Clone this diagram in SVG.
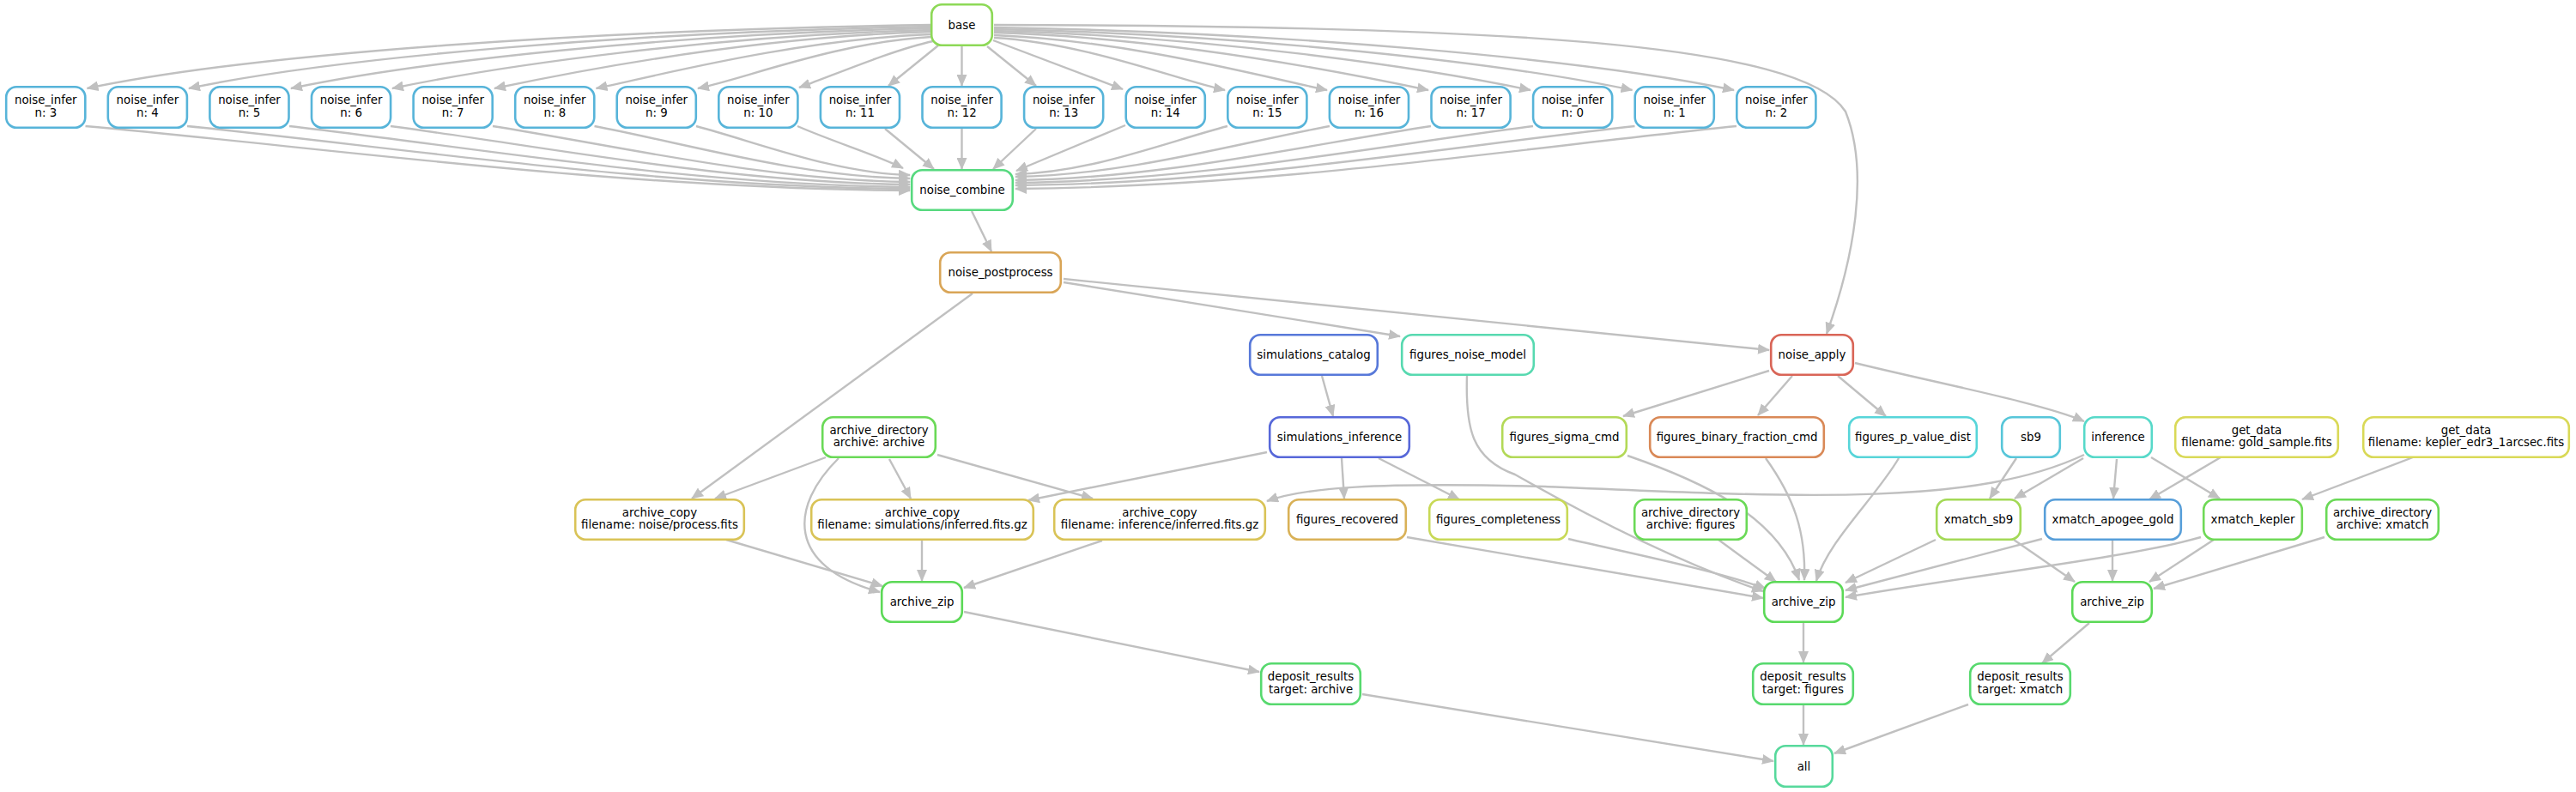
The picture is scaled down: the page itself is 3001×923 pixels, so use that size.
<svg xmlns="http://www.w3.org/2000/svg" width="3001" height="923" viewBox="0 0 3001 923">
<style>
.n rect{fill:#fff;stroke-width:2.6}
text{font-family:"DejaVu Sans","Liberation Sans",sans-serif;font-size:13.33px;text-anchor:middle;fill:#000}
#edges path{fill:none;stroke:#c0c0c0;stroke-width:2.4;marker-end:url(#ah)}
</style>
<defs>
<marker id="ah" markerUnits="userSpaceOnUse" markerWidth="14" markerHeight="12" refX="13" refY="6" orient="auto"><path d="M0,0 L14,6 L0,12 z" fill="#c0c0c0"/></marker>
</defs>
<rect width="3001" height="923" fill="#fff"/>
<g id="edges">
<path d="M1085,29 C691.6,35 298.2,61.7 101.5,103"/>
<path d="M1085,31 C739,37 393,66.7 220,103"/>
<path d="M1085,33 C786.6,39 488.2,71.7 339,103"/>
<path d="M1085,35 C833.8,41 582.6,76.6 457,103"/>
<path d="M1085,37 C881.4,43 677.8,81.6 576,103"/>
<path d="M1085,40 C928.8,46 772.6,86.6 694.5,103"/>
<path d="M1085,43 C976.2,49 867.4,91.6 813,103"/>
<path d="M1087,48 C1040,58 965,90 931,102"/>
<path d="M1093,53 L1035,100"/>
<path d="M1120.5,54 L1120.5,100"/>
<path d="M1150,54 L1207,100"/>
<path d="M1157,47 L1308,104"/>
<path d="M1158,44 C1265.6,50 1373.2,93.7 1427,105"/>
<path d="M1158,41 C1313.2,47 1468.4,88.7 1546,105"/>
<path d="M1158,38 C1360.4,44 1562.8,83.7 1664,105"/>
<path d="M1158,36 C1408,42 1658,78.8 1783,105"/>
<path d="M1158,34 C1455.4,40 1752.8,73.8 1901.5,105"/>
<path d="M1158,32 C1502.8,38 1847.6,68.8 2020,105"/>
<path d="M1158,29 C1750,30 2100,50 2150,130 C2178,200 2160,300 2128,389"/>
<path d="M99.5,147 C387.7,173 723.8,220 1060,222"/>
<path d="M218,147 C470.6,172.5 765.3,218 1060,220"/>
<path d="M337,147 C554,172 807,216 1060,218"/>
<path d="M455,147 C636.5,171 848,213 1060,215"/>
<path d="M574,147 C719.8,170 890,210 1060,212"/>
<path d="M692.5,147 C802.8,168 931.4,206 1060,208"/>
<path d="M811,147 C885.7,167 972.9,202 1060,204"/>
<path d="M929,147 C970,165 1025,182 1052,196"/>
<path d="M1031,150 L1088,197"/>
<path d="M1120.5,150 L1120.5,197"/>
<path d="M1207,150 L1157,197"/>
<path d="M1311,146 L1184,199"/>
<path d="M1430,147 C1355.9,166.6 1269.5,201 1183,203"/>
<path d="M1549,147 C1439.2,167.5 1311.1,204 1183,206"/>
<path d="M1667,147 C1521.8,169 1352.4,208 1183,210"/>
<path d="M1786,147 C1605.1,170 1394,211 1183,213"/>
<path d="M1904.5,147 C1688,171 1435.5,214 1183,216"/>
<path d="M2023,147 C1771,172.6 1477,218 1183,220"/>
<path d="M1132,246 L1155,293"/>
<path d="M1133,342 L806,581"/>
<path d="M1239,329 L1631,392"/>
<path d="M1239,325 L2061,408"/>
<path d="M1540,438 L1553,485"/>
<path d="M962,533 L833,581"/>
<path d="M1036,535 L1061,581"/>
<path d="M1092,530 L1273,581"/>
<path d="M977,534 C920,590 915,660 1025,690"/>
<path d="M846,629 L1028,683"/>
<path d="M1074,630 L1074,677"/>
<path d="M1284,630 L1123,685"/>
<path d="M1476,527 L1198,583"/>
<path d="M1563,534 L1566,581"/>
<path d="M1606,534 L1700,582"/>
<path d="M2428,530 C2300,590 2100,580 1800,567 C1600,562 1520,568 1476,584"/>
<path d="M2427,534 L2347,581"/>
<path d="M2349,534 L2318,581"/>
<path d="M2466,535 L2462,581"/>
<path d="M2506,533 L2586,581"/>
<path d="M2587,533 L2504,582"/>
<path d="M2811,533 L2682,582"/>
<path d="M2061,432 L1891,485"/>
<path d="M2088,438 L2048,484"/>
<path d="M2141,438 L2197,485"/>
<path d="M2161,423 C2250,445 2380,470 2428,491"/>
<path d="M1709,438 C1707,500 1715,535 1765,553 C1830,590 1940,650 2054,689"/>
<path d="M1896,531 C1980,560 2070,600 2096,676"/>
<path d="M2057,534 C2090,580 2104,620 2102,676"/>
<path d="M2212,534 C2185,580 2130,630 2116,677"/>
<path d="M2002,629 L2069,678"/>
<path d="M1827,628 C1900,645 2000,665 2057,686"/>
<path d="M1639,626 L2054,697"/>
<path d="M2255,629 L2150,679"/>
<path d="M2379,628 L2150,688"/>
<path d="M2564,626 C2480,650 2300,670 2150,696"/>
<path d="M2346,629 L2417,678"/>
<path d="M2461,630 L2461,677"/>
<path d="M2579,629 L2504,678"/>
<path d="M2708,626 L2509,686"/>
<path d="M1123,713 L1467,783"/>
<path d="M2101,726 L2101,772"/>
<path d="M2434,726 L2379,773"/>
<path d="M1587,809 L2066,887"/>
<path d="M2101,822 L2101,868"/>
<path d="M2293,821 L2137,878"/>
</g>
<g id="base" class="n"><rect x="1085.2" y="5.2" width="70.6" height="47.6" rx="12" stroke="#8dd957"/><text x="1120.5" y="33.5">base</text></g>
<g id="noise_infer_3" class="n"><rect x="7.2" y="101.2" width="92.1" height="47.6" rx="12" stroke="#57b4d9"/><text x="53.3" y="121">noise_infer</text><text x="53.3" y="135.5">n: 3</text></g>
<g id="noise_infer_4" class="n"><rect x="125.8" y="101.2" width="92.1" height="47.6" rx="12" stroke="#57b4d9"/><text x="171.9" y="121">noise_infer</text><text x="171.9" y="135.5">n: 4</text></g>
<g id="noise_infer_5" class="n"><rect x="244.4" y="101.2" width="92.1" height="47.6" rx="12" stroke="#57b4d9"/><text x="290.5" y="121">noise_infer</text><text x="290.5" y="135.5">n: 5</text></g>
<g id="noise_infer_6" class="n"><rect x="363" y="101.2" width="92.1" height="47.6" rx="12" stroke="#57b4d9"/><text x="409.1" y="121">noise_infer</text><text x="409.1" y="135.5">n: 6</text></g>
<g id="noise_infer_7" class="n"><rect x="481.6" y="101.2" width="92.1" height="47.6" rx="12" stroke="#57b4d9"/><text x="527.7" y="121">noise_infer</text><text x="527.7" y="135.5">n: 7</text></g>
<g id="noise_infer_8" class="n"><rect x="600.2" y="101.2" width="92.1" height="47.6" rx="12" stroke="#57b4d9"/><text x="646.3" y="121">noise_infer</text><text x="646.3" y="135.5">n: 8</text></g>
<g id="noise_infer_9" class="n"><rect x="718.7" y="101.2" width="92.1" height="47.6" rx="12" stroke="#57b4d9"/><text x="764.8" y="121">noise_infer</text><text x="764.8" y="135.5">n: 9</text></g>
<g id="noise_infer_10" class="n"><rect x="837.3" y="101.2" width="92.1" height="47.6" rx="12" stroke="#57b4d9"/><text x="883.4" y="121">noise_infer</text><text x="883.4" y="135.5">n: 10</text></g>
<g id="noise_infer_11" class="n"><rect x="955.9" y="101.2" width="92.1" height="47.6" rx="12" stroke="#57b4d9"/><text x="1002" y="121">noise_infer</text><text x="1002" y="135.5">n: 11</text></g>
<g id="noise_infer_12" class="n"><rect x="1074.5" y="101.2" width="92.1" height="47.6" rx="12" stroke="#57b4d9"/><text x="1120.6" y="121">noise_infer</text><text x="1120.6" y="135.5">n: 12</text></g>
<g id="noise_infer_13" class="n"><rect x="1193.1" y="101.2" width="92.1" height="47.6" rx="12" stroke="#57b4d9"/><text x="1239.2" y="121">noise_infer</text><text x="1239.2" y="135.5">n: 13</text></g>
<g id="noise_infer_14" class="n"><rect x="1311.7" y="101.2" width="92.1" height="47.6" rx="12" stroke="#57b4d9"/><text x="1357.8" y="121">noise_infer</text><text x="1357.8" y="135.5">n: 14</text></g>
<g id="noise_infer_15" class="n"><rect x="1430.3" y="101.2" width="92.1" height="47.6" rx="12" stroke="#57b4d9"/><text x="1476.4" y="121">noise_infer</text><text x="1476.4" y="135.5">n: 15</text></g>
<g id="noise_infer_16" class="n"><rect x="1548.9" y="101.2" width="92.1" height="47.6" rx="12" stroke="#57b4d9"/><text x="1595" y="121">noise_infer</text><text x="1595" y="135.5">n: 16</text></g>
<g id="noise_infer_17" class="n"><rect x="1667.5" y="101.2" width="92.1" height="47.6" rx="12" stroke="#57b4d9"/><text x="1713.6" y="121">noise_infer</text><text x="1713.6" y="135.5">n: 17</text></g>
<g id="noise_infer_0" class="n"><rect x="1786.1" y="101.2" width="92.1" height="47.6" rx="12" stroke="#57b4d9"/><text x="1832.2" y="121">noise_infer</text><text x="1832.2" y="135.5">n: 0</text></g>
<g id="noise_infer_1" class="n"><rect x="1904.7" y="101.2" width="92.1" height="47.6" rx="12" stroke="#57b4d9"/><text x="1950.8" y="121">noise_infer</text><text x="1950.8" y="135.5">n: 1</text></g>
<g id="noise_infer_2" class="n"><rect x="2023.3" y="101.2" width="92.1" height="47.6" rx="12" stroke="#57b4d9"/><text x="2069.4" y="121">noise_infer</text><text x="2069.4" y="135.5">n: 2</text></g>
<g id="noise_combine" class="n"><rect x="1062.2" y="198.2" width="117.6" height="46.6" rx="12" stroke="#57d97f"/><text x="1121" y="226">noise_combine</text></g>
<g id="noise_postprocess" class="n"><rect x="1095.2" y="294.2" width="140.6" height="46.6" rx="12" stroke="#d9a557"/><text x="1165.5" y="322">noise_postprocess</text></g>
<g id="simulations_catalog" class="n"><rect x="1456.2" y="390.2" width="148.6" height="46.6" rx="12" stroke="#5778d9"/><text x="1530.5" y="418">simulations_catalog</text></g>
<g id="figures_noise_model" class="n"><rect x="1633.2" y="390.2" width="153.6" height="46.6" rx="12" stroke="#57d9b0"/><text x="1710" y="418">figures_noise_model</text></g>
<g id="noise_apply" class="n"><rect x="2063.2" y="390.2" width="95.6" height="46.6" rx="12" stroke="#d96557"/><text x="2111" y="418">noise_apply</text></g>
<g id="archive_directory_archive" class="n"><rect x="958.2" y="486.2" width="131.6" height="46.6" rx="12" stroke="#6ad957"/><text x="1024" y="505.5">archive_directory</text><text x="1024" y="520">archive: archive</text></g>
<g id="simulations_inference" class="n"><rect x="1479.2" y="486.2" width="162.6" height="46.6" rx="12" stroke="#5768d9"/><text x="1560.5" y="514">simulations_inference</text></g>
<g id="figures_sigma_cmd" class="n"><rect x="1750.2" y="486.2" width="144.6" height="46.6" rx="12" stroke="#b3d957"/><text x="1822.5" y="514">figures_sigma_cmd</text></g>
<g id="figures_binary_fraction_cmd" class="n"><rect x="1922.2" y="486.2" width="202.6" height="46.6" rx="12" stroke="#d98957"/><text x="2023.5" y="514">figures_binary_fraction_cmd</text></g>
<g id="figures_p_value_dist" class="n"><rect x="2154.2" y="486.2" width="148.6" height="46.6" rx="12" stroke="#57d5d9"/><text x="2228.5" y="514">figures_p_value_dist</text></g>
<g id="sb9" class="n"><rect x="2332.2" y="486.2" width="67.6" height="46.6" rx="12" stroke="#57c6d9"/><text x="2366" y="514">sb9</text></g>
<g id="inference" class="n"><rect x="2428.2" y="486.2" width="78.6" height="46.6" rx="12" stroke="#57d9c9"/><text x="2467.5" y="514">inference</text></g>
<g id="get_data_gold" class="n"><rect x="2534.2" y="486.2" width="189.6" height="46.6" rx="12" stroke="#d9d957"/><text x="2629" y="505.5">get_data</text><text x="2629" y="520">filename: gold_sample.fits</text></g>
<g id="get_data_kepler" class="n"><rect x="2753.2" y="486.2" width="239.6" height="46.6" rx="12" stroke="#d9d957"/><text x="2873" y="505.5">get_data</text><text x="2873" y="520">filename: kepler_edr3_1arcsec.fits</text></g>
<g id="archive_copy_noise" class="n"><rect x="670.2" y="582.2" width="196.6" height="46.6" rx="12" stroke="#d9c357"/><text x="768.5" y="601.5">archive_copy</text><text x="768.5" y="616">filename: noise/process.fits</text></g>
<g id="archive_copy_sims" class="n"><rect x="945.2" y="582.2" width="258.6" height="46.6" rx="12" stroke="#d9c357"/><text x="1074.5" y="601.5">archive_copy</text><text x="1074.5" y="616">filename: simulations/inferred.fits.gz</text></g>
<g id="archive_copy_inference" class="n"><rect x="1228.2" y="582.2" width="245.6" height="46.6" rx="12" stroke="#d9c357"/><text x="1351" y="601.5">archive_copy</text><text x="1351" y="616">filename: inference/inferred.fits.gz</text></g>
<g id="figures_recovered" class="n"><rect x="1501.2" y="582.2" width="136.6" height="46.6" rx="12" stroke="#d9b157"/><text x="1569.5" y="610">figures_recovered</text></g>
<g id="figures_completeness" class="n"><rect x="1665.2" y="582.2" width="160.6" height="46.6" rx="12" stroke="#c8d957"/><text x="1745.5" y="610">figures_completeness</text></g>
<g id="archive_directory_figures" class="n"><rect x="1904.2" y="582.2" width="130.6" height="46.6" rx="12" stroke="#6ad957"/><text x="1969.5" y="601.5">archive_directory</text><text x="1969.5" y="616">archive: figures</text></g>
<g id="xmatch_sb9" class="n"><rect x="2256.2" y="582.2" width="97.6" height="46.6" rx="12" stroke="#a3d957"/><text x="2305" y="610">xmatch_sb9</text></g>
<g id="xmatch_apogee_gold" class="n"><rect x="2382.2" y="582.2" width="158.6" height="46.6" rx="12" stroke="#579ed9"/><text x="2461.5" y="610">xmatch_apogee_gold</text></g>
<g id="xmatch_kepler" class="n"><rect x="2567.2" y="582.2" width="114.6" height="46.6" rx="12" stroke="#6fd957"/><text x="2624.5" y="610">xmatch_kepler</text></g>
<g id="archive_directory_xmatch" class="n"><rect x="2710.2" y="582.2" width="130.6" height="46.6" rx="12" stroke="#6ad957"/><text x="2775.5" y="601.5">archive_directory</text><text x="2775.5" y="616">archive: xmatch</text></g>
<g id="archive_zip_archive" class="n"><rect x="1027.2" y="678.2" width="93.6" height="46.6" rx="12" stroke="#5cd957"/><text x="1074" y="706">archive_zip</text></g>
<g id="archive_zip_figures" class="n"><rect x="2055.2" y="678.2" width="91.6" height="46.6" rx="12" stroke="#5cd957"/><text x="2101" y="706">archive_zip</text></g>
<g id="archive_zip_xmatch" class="n"><rect x="2414.2" y="678.2" width="92.6" height="46.6" rx="12" stroke="#5cd957"/><text x="2460.5" y="706">archive_zip</text></g>
<g id="deposit_results_archive" class="n"><rect x="1469.2" y="773.2" width="115.6" height="47.6" rx="12" stroke="#57d96e"/><text x="1527" y="793">deposit_results</text><text x="1527" y="807.5">target: archive</text></g>
<g id="deposit_results_figures" class="n"><rect x="2042.2" y="773.2" width="116.6" height="47.6" rx="12" stroke="#57d96e"/><text x="2100.5" y="793">deposit_results</text><text x="2100.5" y="807.5">target: figures</text></g>
<g id="deposit_results_xmatch" class="n"><rect x="2295.2" y="773.2" width="116.6" height="47.6" rx="12" stroke="#57d96e"/><text x="2353.5" y="793">deposit_results</text><text x="2353.5" y="807.5">target: xmatch</text></g>
<g id="all" class="n"><rect x="2068.2" y="869.2" width="66.6" height="47.6" rx="12" stroke="#57d99c"/><text x="2101.5" y="897.5">all</text></g>
</svg>
